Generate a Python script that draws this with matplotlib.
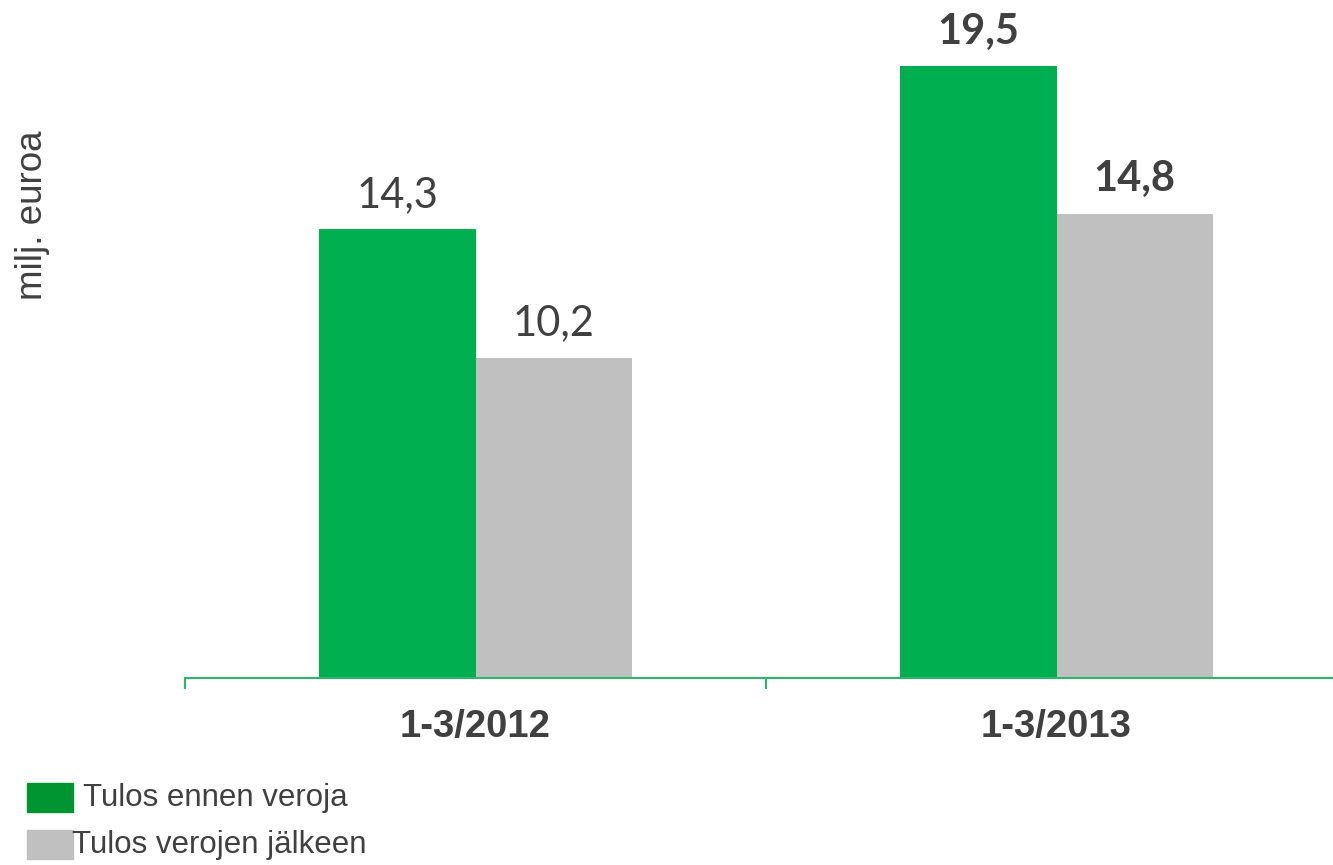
import matplotlib.pyplot as plt
from matplotlib.patches import Rectangle
import numpy as np

periods = ["1-3/2012", "1-3/2013"]
series = ["Tulos ennen veroja", "Tulos verojen jälkeen"]
before_tax = [14.3, 19.5]
after_tax = [10.2, 14.8]
bold_labels = [False, True]

green = "#00B050"
grey = "#C0C0C0"
txt = "#404040"

fig = plt.figure(figsize=(13.33, 8.65), dpi=100)
# axes run a little past the right edge, as in the original
ax = fig.add_axes([185 / 1333, 1 - 678 / 865, 1162 / 1333, (678 - 19) / 865])

x = np.arange(len(periods))
w = 0.269
b1 = ax.bar(x - w / 2, before_tax, w, color=green, label=series[0])
b2 = ax.bar(x + w / 2, after_tax, w, color=grey, label=series[1])

for bars, vals in [(b1, before_tax), (b2, after_tax)]:
    for i, (r, v) in enumerate(zip(bars, vals)):
        ax.annotate(f"{v:.1f}".replace(".", ","),
                    (r.get_x() + r.get_width() / 2, v),
                    xytext=(0, 11), textcoords="offset points",
                    ha="center", va="bottom", fontsize=30, color=txt,
                    family="Lato", fontweight="bold" if bold_labels[i] else "normal")

ax.set_xlim(-0.5, len(periods) - 0.5)
ax.set_ylim(0, 21)
ax.set_yticks([])
for s in ["top", "right", "left"]:
    ax.spines[s].set_visible(False)
ax.spines["bottom"].set_color("#2DB56A")
ax.spines["bottom"].set_linewidth(1.5)

ax.set_xticks(x)
ax.set_xticklabels(periods, fontsize=27.5, fontweight="bold", color=txt,
                   family="Liberation Sans")
ax.tick_params(axis="x", length=0, pad=22)
ax.set_xticks(np.arange(len(periods) + 1) - 0.5, minor=True)
ax.tick_params(axis="x", which="minor", length=8, width=1.5, color="#2DB56A")

fig.text(32 / 1333, 1 - 215 / 865, "milj. euroa", rotation=90, ha="center",
         va="center", fontsize=26.5, color=txt, family="Liberation Sans")

# legend drawn by hand
tops = [783, 830]
text_x = [83, 72]
for k, name in enumerate(series):
    fig.patches.append(Rectangle((27 / 1333, 1 - (tops[k] + 29) / 865), 46 / 1333,
                                 29 / 865, transform=fig.transFigure,
                                 color="#009530" if k == 0 else grey))
    fig.text(text_x[k] / 1333, 1 - (tops[k] + 15) / 865, name, ha="left",
             va="center", fontsize=22.5, color=txt, family="Liberation Sans")

fig.savefig("out.png", dpi=100)
